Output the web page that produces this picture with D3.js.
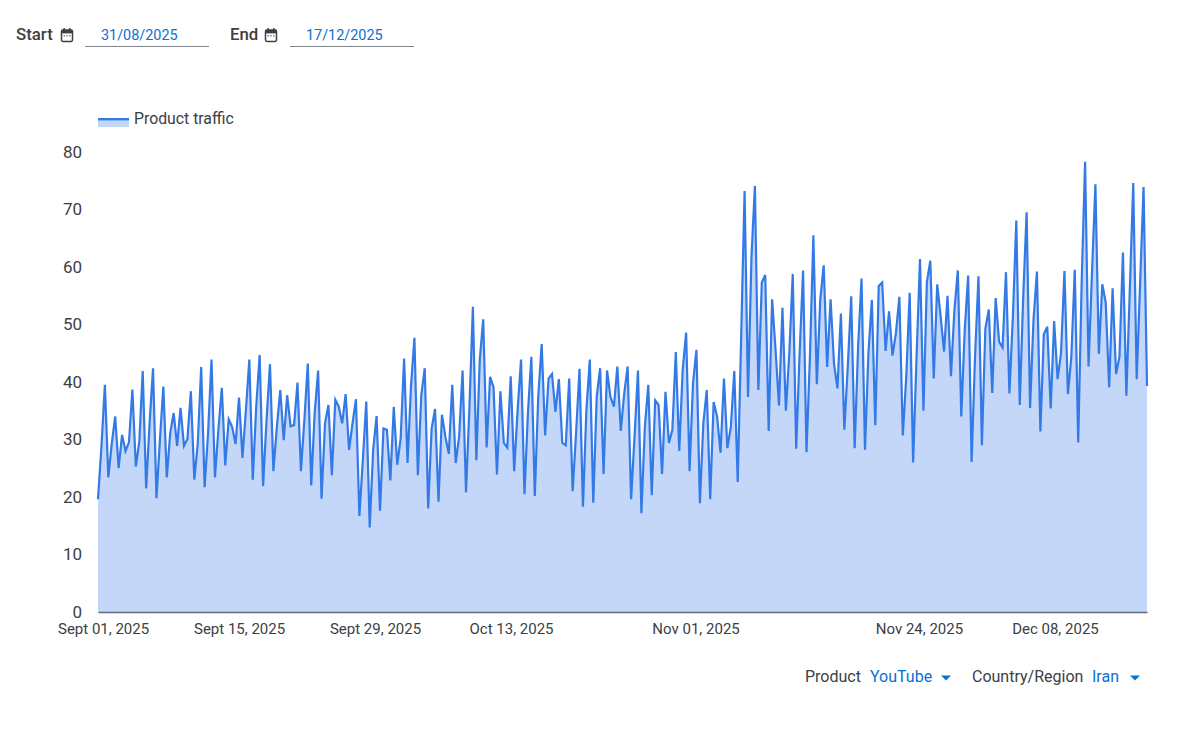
<!DOCTYPE html>
<html><head><meta charset="utf-8">
<script src="https://cdn.jsdelivr.net/npm/d3@7/dist/d3.min.js"></script>
<style>
html,body{margin:0;padding:0;background:#fff}
svg{display:block}
text{font-family:Roboto,"Noto Sans",sans-serif}
</style></head><body><svg id="c" width="1200" height="736"></svg>
<script>
const traffic = [19.6,28.8,39.5,23.4,29.3,34.0,25.0,30.8,28.0,29.5,38.7,25.3,29.6,41.9,21.5,32.8,42.4,19.8,29.9,39.2,
23.4,31.1,34.6,28.9,35.5,28.9,30.1,38.4,23.0,29.3,42.6,21.7,31.1,43.9,23.4,31.7,39.0,25.5,33.5,32.2,
29.2,37.3,26.8,35.1,43.9,23.0,35.7,44.7,21.9,33.4,43.1,24.5,32.2,38.6,29.9,37.7,32.3,32.5,39.9,24.5,
33.4,43.2,22.0,34.6,42.0,19.7,32.8,36.0,23.8,36.9,35.7,32.8,37.9,28.2,32.8,37.0,16.7,26.4,36.6,14.7,
28.2,34.1,17.6,31.9,31.7,22.9,35.7,25.6,30.2,44.1,25.9,39.2,47.7,23.8,37.7,42.4,18.0,31.9,35.3,19.2,
34.3,30.5,27.5,39.5,25.9,30.5,42.0,20.8,35.7,53.1,26.4,43.8,50.9,28.6,40.9,39.1,23.9,38.4,29.4,28.6,
41.0,24.5,35.1,43.9,20.5,34.6,44.4,20.2,37.4,46.6,30.7,40.6,41.4,34.8,40.5,29.4,29.0,40.6,21.0,31.1,
42.3,18.3,35.1,43.9,19.0,37.4,42.4,24.0,42.0,37.4,35.7,42.7,31.5,38.0,42.7,19.6,30.5,42.0,17.2,32.2,
39.5,20.3,36.8,36.0,24.0,38.3,29.4,31.7,45.2,28.0,42.1,48.6,24.5,39.8,45.6,18.9,32.8,38.6,19.6,36.5,
34.0,27.7,40.6,28.5,32.2,41.9,22.6,47.9,73.2,37.4,61.8,74.1,38.6,57.3,58.6,31.5,54.4,45.6,35.9,52.9,
35.0,45.0,58.8,28.4,45.0,59.4,27.8,44.4,65.5,39.6,54.3,60.3,42.6,54.4,43.2,38.9,51.9,31.7,42.7,54.9,
28.5,46.1,58.0,28.2,45.0,54.3,32.5,56.7,57.3,45.4,52.3,44.6,48.5,54.8,30.7,40.9,55.5,26.0,44.4,61.4,
35.0,57.4,61.1,40.6,57.0,51.4,45.3,55.0,41.0,52.5,59.4,34.0,49.0,58.5,26.1,44.4,58.4,29.0,49.3,52.6,
38.1,54.6,47.0,46.0,59.1,38.0,51.4,68.1,36.0,54.8,69.5,35.5,50.8,59.2,31.4,48.3,49.6,35.4,50.6,40.5,
45.0,59.3,37.9,44.4,59.5,29.5,57.2,78.3,42.7,58.9,74.4,44.9,57.0,53.8,39.1,56.3,41.4,44.4,62.5,37.6,
56.0,74.6,40.5,57.2,73.9,39.3];
const tickDates = ["2025-09-01","2025-09-15","2025-09-29","2025-10-13","2025-11-01","2025-11-24","2025-12-08"];
const tickLabels = ["Sept 01, 2025","Sept 15, 2025","Sept 29, 2025","Oct 13, 2025","Nov 01, 2025","Nov 24, 2025","Dec 08, 2025"];
const yTicks = [0,10,20,30,40,50,60,70,80];
const rangeStart = "2025-08-31T09:00:00Z", rangeEnd = "2025-12-17T09:00:00Z";
const startLabel = "31/08/2025", endLabel = "17/12/2025";
const legendLabel = "Product traffic";

const L=98,R=1147,T=152,B=612;
const INK="#3c4043",BLUE="#0b6fd6",LINE="#347ae6",FILL="#c4d7f9";
const svg=d3.select("#c");
const x=d3.scaleUtc().domain([new Date(rangeStart),new Date(rangeEnd)]).range([L,R]);
const idx=d3.scaleLinear().domain([0,traffic.length-1]).range(x.domain().map(Number));
const y=d3.scaleLinear().domain([0,80]).range([B,T]);
const px=(d,i)=>x(new Date(idx(i)));
svg.append("path").attr("fill",FILL)
  .attr("d",d3.area().x(px).y0(B).y1(d=>y(d))(traffic));
svg.append("path").attr("fill","none").attr("stroke",LINE).attr("stroke-width",2.2).attr("stroke-linejoin","miter")
  .attr("d",d3.line().x(px).y(d=>y(d))(traffic));

const parsed=tickDates.map(d=>new Date(d+"T00:00:00Z"));
const xa=svg.append("g").attr("transform",`translate(-1,${B})`)
  .call(d3.axisBottom(x).tickValues(parsed).tickSize(0).tickPadding(11).tickFormat((d,i)=>tickLabels[i]));
xa.select(".domain").attr("transform","translate(1,0)").attr("stroke","#5f6b76").attr("stroke-width",1.5);
xa.selectAll("text").attr("fill",INK).style("font-size","15px").style("font-family","Roboto");
const ya=svg.append("g").attr("transform",`translate(${L},0)`)
  .call(d3.axisLeft(y).tickValues(yTicks).tickSize(0).tickPadding(16));
ya.select(".domain").remove();
ya.selectAll("text").attr("fill",INK).style("font-size","17px").style("font-family","Roboto");

// legend
svg.append("rect").attr("x",98).attr("y",120).attr("width",31).attr("height",7).attr("fill",FILL);
svg.append("rect").attr("x",98).attr("y",118).attr("width",31).attr("height",2.4).attr("fill",LINE);
const t=(s,xx,yy,o={})=>svg.append("text").attr("x",xx).attr("y",yy).text(s)
  .attr("fill",o.fill||INK).attr("font-size",o.size||15.8).attr("font-weight",o.w||400).attr("text-anchor",o.a||"start");
t(legendLabel,134,124);

// date controls
function cal(cx,cy){
  const g=svg.append("g").attr("transform",`translate(${cx},${cy})`);
  g.append("rect").attr("x",-5.5).attr("y",-5).attr("width",11).attr("height",11.5).attr("rx",1.4)
    .attr("fill","none").attr("stroke",INK).attr("stroke-width",1.5);
  g.append("rect").attr("x",-5.5).attr("y",-5).attr("width",11).attr("height",3.4).attr("fill",INK);
  g.append("rect").attr("x",-3.6).attr("y",-7).attr("width",1.5).attr("height",2.5).attr("fill",INK);
  g.append("rect").attr("x",2.1).attr("y",-7).attr("width",1.5).attr("height",2.5).attr("fill",INK);
  [-2.8,0,2.8].forEach(d=>g.append("rect").attr("x",d-.6).attr("y",0.2).attr("width",1.2).attr("height",1.2).attr("fill",INK));
}
t("Start",16,40,{w:500,size:16.8});
cal(67,35);
t(startLabel,101,40,{fill:BLUE,size:14.4});
svg.append("rect").attr("x",85).attr("y",46).attr("width",124).attr("height",1).attr("fill","#80868b");
t("End",230,40,{w:500,size:16.8});
cal(271,35);
t(endLabel,306,40,{fill:BLUE,size:14.4});
svg.append("rect").attr("x",290).attr("y",46).attr("width",124).attr("height",1).attr("fill","#80868b");

// filters
function tri(x0){svg.append("path").attr("d",`M${x0},675.5h10l-5,5z`).attr("fill",BLUE);}
t("Product",805,682,{size:16});
t("YouTube",870,682,{fill:BLUE,size:16});
tri(941);
t("Country/Region",972,682,{size:16});
t("Iran",1092,682,{fill:BLUE,size:16});
tri(1130);
</script></body></html>
